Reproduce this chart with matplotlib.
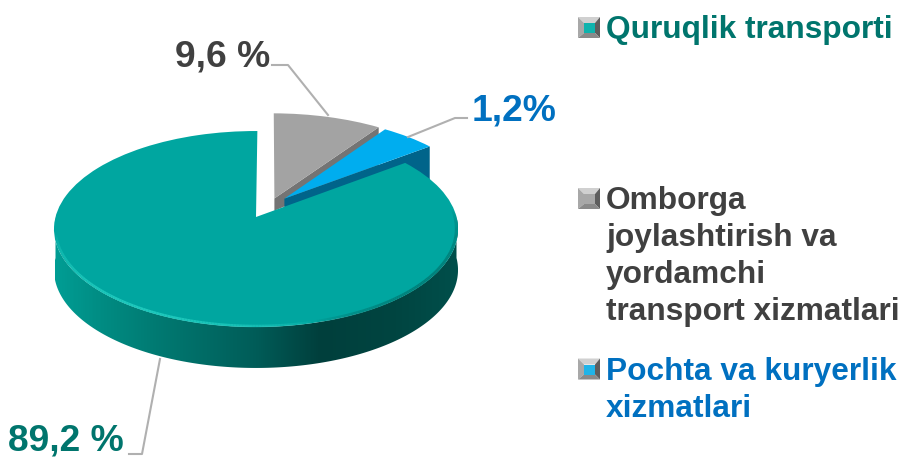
import matplotlib
matplotlib.use('Agg')
import matplotlib.pyplot as plt
import numpy as np
from matplotlib.collections import LineCollection
from matplotlib.colors import LinearSegmentedColormap, to_rgb
from matplotlib.patches import Polygon
from matplotlib.transforms import Transform

plt.rcParams['font.family'] = ['Liberation Sans', 'DejaVu Sans']

# drawn slice sizes (the slices do not follow the printed labels exactly)
categories = ['Quruqlik transporti', 'Omborga\njoylashtirish va\nyordamchi\ntransport xizmatlari',
              'Pochta va kuryerlik\nxizmatlari']
slice_sizes = [85.4, 9.6, 5.0]
value_labels = ['89,2 %', '9,6 %', '1,2%']

TEAL, GRAY, BLUE = '#00a6a0', '#a3a3a3', '#00adef'
TEXT_COLORS = ['#00756d', '#404040', '#0070c0']
START_ANGLE = 37
X0, Y0, SX, SY, K = 256, 217, 200.5, 96.5, 0.1224
DEPTH = 41


def tilt(x, y):
    """ unit pie coordinates -> picture pixels, far side a bit smaller """
    w = 1 + K * np.asarray(y)
    return X0 + SX * np.asarray(x) / w, Y0 - SY * np.asarray(y) / w


class Tilt(Transform):
    input_dims = 2
    output_dims = 2
    is_separable = False
    has_inverse = False

    def transform_non_affine(self, values):
        px, py = tilt(values[:, 0], values[:, 1])
        return np.column_stack([px, py])


fig = plt.figure(figsize=(9.04, 4.59), dpi=100)
ax = fig.add_axes([0, 0, 1, 1])
wedges, _ = ax.pie(slice_sizes, colors=[TEAL, GRAY, BLUE], startangle=START_ANGLE, counterclock=False,
                   wedgeprops={'linewidth': 0})

# pulled out slices
wedges[1].set_center((0.094, 0.197))
wedges[1].set_radius(1.04)
wedges[2].set_center((0.145, 0.195))
wedges[2].set_radius(1.01)

tilted = Tilt() + ax.transData
for w in wedges:
    w.set_transform(tilted)
    w.set_clip_on(False)

# side walls of the two small slices, behind the big one
for w, dark, order in zip(wedges[1:], ['#747474', '#00648a'], [1, 3]):
    cx, cy = w.center
    a = np.radians(w.theta1)
    px, py = tilt(np.array([cx, cx + w.r * np.cos(a)]), np.array([cy, cy + w.r * np.sin(a)]))
    ax.fill([px[0], px[1], px[1], px[0]], [py[0], py[1], py[1] + DEPTH * 0.95, py[0] + DEPTH * 0.3],
            color=dark, lw=0, zorder=order)
    w.set_zorder(order + 1)

# wall of the big slice, one gradient clipped to the wall outline
wall = LinearSegmentedColormap.from_list('wall', [(0, '#009d94'), (0.12, '#008b82'), (0.25, '#007a72'),
                                                 (0.5, '#005c58'), (0.66, '#003f3c'), (0.85, '#004541'),
                                                 (1, '#004f4b')])
t = np.radians(np.linspace(180, 360, 241))
px, py = tilt(np.cos(t), np.sin(t))
shade = ax.imshow(np.linspace(0, 1, 404)[None, :], cmap=wall, extent=(55, 458, 400, 200), aspect='auto', zorder=5)
outline = Polygon(np.column_stack([np.r_[px, px[::-1]], np.r_[py, py[::-1] + DEPTH]]),
                  transform=ax.transData, fc='none', ec='none')
ax.add_patch(outline)
shade.set_clip_path(outline)
wedges[0].set_zorder(6)

ax.set_aspect('auto')
ax.set_xlim(0, 904)
ax.set_ylim(459, 0)
ax.axis('off')


def rim(deg1, deg2, color, lw):
    # line along the top edge, fading out at both ends
    a = np.radians(np.linspace(deg1, deg2, 120))
    rx, ry = tilt(0.992 * np.cos(a), 0.992 * np.sin(a))
    pts = np.column_stack([rx, ry])
    segs = np.stack([pts[:-1], pts[1:]], axis=1)
    fade = np.sin(np.linspace(0, np.pi, len(segs))) ** 0.6
    cols = [(*to_rgb(color), f) for f in fade]
    ax.add_collection(LineCollection(segs, colors=cols, linewidths=lw, zorder=7))


rim(190, 285, '#1fc9bd', 1.8)
rim(285, 365, '#00807a', 2.2)

# leader lines
leaders = [([129, 142, 160], [454, 454, 359]), ([272, 288, 328], [65, 65, 115]), ([467, 455, 408], [118, 118, 137])]
for lx, ly in leaders:
    ax.plot(lx, ly, color='#b0b0b0', lw=1.5, zorder=8)

label_xy = [(8, 451), (175, 66), (472, 120)]
for (lx, ly), txt, col in zip(label_xy, value_labels, TEXT_COLORS):
    ax.text(lx, ly, txt, color=col, fontsize=26.8, fontweight='bold', va='baseline', ha='left')

# legend, with bevelled markers
marker_fill = ['#0fb3ad', '#a8a8a8', '#20b4e8']
marker_y = [27.5, 198.5, 369]
text_y = [38, 320, 417]
for name, col, fill, my, ty in zip(categories, TEXT_COLORS, marker_fill, marker_y, text_y):
    l, r, top, bot = 578, 600, my - 10.5, my + 10.5
    il, ir, it, ib = l + 6, r - 5, top + 6, bot - 5
    ax.fill([l, r, ir, il], [top, top, it, it], color='#d0d0d0', lw=0)
    ax.fill([l, il, il, l], [top, it, ib, bot], color='#a8a8a8', lw=0)
    ax.fill([r, ir, ir, r], [top, it, ib, bot], color='#5e5e5e', lw=0)
    ax.fill([l, r, ir, il], [bot, bot, ib, ib], color='#8a8a8a', lw=0)
    ax.fill([il, ir, ir, il], [it, it, ib, ib], color=fill, lw=0)
    ax.text(606, ty, name, color=col, fontsize=22.8, fontweight='bold', va='baseline', ha='left', linespacing=1.3)

fig.savefig('out.png', dpi=100)
